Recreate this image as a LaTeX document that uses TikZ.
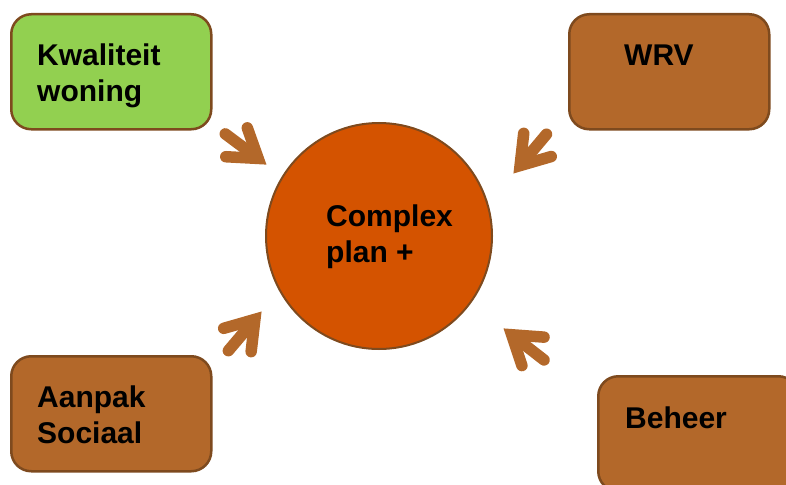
\documentclass[tikz,border=0pt]{standalone}
\usepackage{fontspec}
\setmainfont{Liberation Sans}
\definecolor{boxgreen}{HTML}{92D050}
\definecolor{boxbrown}{HTML}{B3682A}
\definecolor{edgebrown}{HTML}{7E4A1E}
\definecolor{circfill}{HTML}{D45300}
\tikzset{
  boxshape/.style={draw=edgebrown, line width=2.5pt, rounded corners=20pt, minimum width=200pt, minimum height=115pt, inner sep=0pt, anchor=north west},
  labeltext/.style={font=\bfseries\fontsize{30}{36}\selectfont, align=left, inner sep=0pt, anchor=base west},
  arrowpart/.style={draw=boxbrown, line width=11.5pt, line cap=round, line join=miter},
  bigarrow/.pic={
    \draw[arrowpart] (-52,0) -- (-14,0);
    \draw[arrowpart] (-38,18) -- (-11,0) -- (-38,-18);
  }
}
\begin{document}
\begin{tikzpicture}[x=1pt,y=-1pt]
\useasboundingbox (0,0) rectangle (786,484);
\clip (0,0) rectangle (786,484);
% boxes
\node[boxshape, fill=boxgreen] (kw) at (10,13) {};
\node[boxshape, fill=boxbrown] (wrv) at (568,13) {};
\node[boxshape, fill=boxbrown] (aan) at (10,355) {};
\node[boxshape, fill=boxbrown] (beh) at (597,375) {};
% centre circle
\node[circle, draw=edgebrown, line width=2pt, fill=circfill, minimum size=226pt, inner sep=0pt] (cp) at (379,236) {};
% texts (multi-line nodes: base is the last line)
\node[labeltext] (kwt) at (37,102) {Kwaliteit\\woning};
\node[labeltext] (wrvt) at (624,66) {WRV};
\node[labeltext] (aant) at (37,443) {Aanpak\\Sociaal};
\node[labeltext] (beht) at (625,428) {Beheer};
\node[labeltext] (cpt) at (326,262) {Complex\\plan +};
% arrows
\pic[shift={(267,165)}, rotate=-36.7] {bigarrow};
\pic[shift={(513,174)}, rotate=-130.1] {bigarrow};
\pic[shift={(262,311)}, rotate=49.7] {bigarrow};
\pic[shift={(503,328)}, rotate=142.1] {bigarrow};
\end{tikzpicture}
\end{document}
